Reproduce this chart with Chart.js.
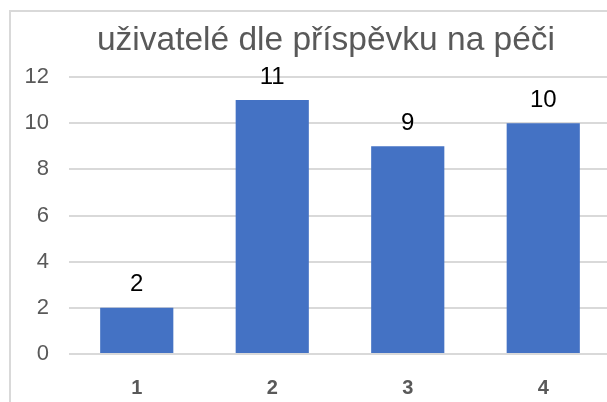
<!DOCTYPE html>
<html>
<head>
<meta charset="utf-8">
<script src="https://cdn.jsdelivr.net/npm/chart.js@4/dist/chart.umd.min.js"></script>
<style>
  html, body { margin: 0; padding: 0; background: #fff; overflow: hidden; }
  #wrap { position: relative; width: 607px; height: 402px; overflow: hidden; }
  #frame { position: absolute; left: 9px; top: 10px; width: 700px; height: 500px; border: 2px solid #d9d9d9; box-sizing: border-box; }
  canvas { position: absolute; left: 0; top: 0; }
</style>
</head>
<body>
<div id="wrap">
  <div id="frame"></div>
  <canvas id="chart" width="611" height="402"></canvas>
</div>
<script>
// data
const title = "uživatelé dle příspěvku na péči";
const categories = ["1", "2", "3", "4"];
const users = [2, 11, 9, 10];
const yTicks = [0, 2, 4, 6, 8, 10, 12];

const FONT = "'Liberation Sans', Arial, sans-serif";

// title is drawn by hand so it can sit off-centre like the original
const titlePlugin = {
  id: "titlePlugin",
  afterDraw(chart) {
    const ctx = chart.ctx;
    ctx.save();
    ctx.font = "33.5px " + FONT;
    ctx.fillStyle = "#595959";
    ctx.textAlign = "center";
    ctx.textBaseline = "alphabetic";
    ctx.fillText(title, 326, 50);
    ctx.restore();
  },
};

// value labels above the bars
const barLabels = {
  id: "barLabels",
  afterDatasetsDraw(chart) {
    const ctx = chart.ctx;
    const meta = chart.getDatasetMeta(0);
    ctx.save();
    ctx.font = "24px " + FONT;
    ctx.fillStyle = "#000";
    ctx.textAlign = "center";
    ctx.textBaseline = "middle";
    meta.data.forEach((bar, i) => {
      ctx.fillText(users[i], bar.x, bar.y - 23);
    });
    ctx.restore();
  },
};

new Chart("chart", {
  type: "bar",
  data: {
    labels: categories,
    datasets: [
      {
        data: users,
        backgroundColor: "#4472C4",
        barPercentage: 0.54,
        categoryPercentage: 1,
      },
    ],
  },
  options: {
    responsive: false,
    animation: false,
    layout: { padding: { left: 0, right: 0, top: 77, bottom: 0 } },
    plugins: {
      legend: { display: false },
      tooltip: { enabled: false },
      title: { display: false },
    },
    scales: {
      x: {
        grid: { display: false },
        border: { display: false },
        ticks: {
          color: "#595959",
          padding: 14,
          font: { family: FONT, size: 20, weight: "bold" },
        },
        afterFit(scale) {
          scale.height = 48;
        },
      },
      y: {
        min: 0,
        max: 12,
        grid: { color: "#d9d9d9", lineWidth: 2, drawTicks: false },
        border: { display: false },
        afterBuildTicks(scale) {
          scale.ticks = yTicks.map((v) => ({ value: v }));
        },
        ticks: {
          color: "#595959",
          padding: 20,
          font: { family: FONT, size: 22 },
        },
        afterFit(scale) {
          scale.width = 69;
        },
      },
    },
  },
  plugins: [barLabels, titlePlugin],
});
</script>
</body>
</html>
